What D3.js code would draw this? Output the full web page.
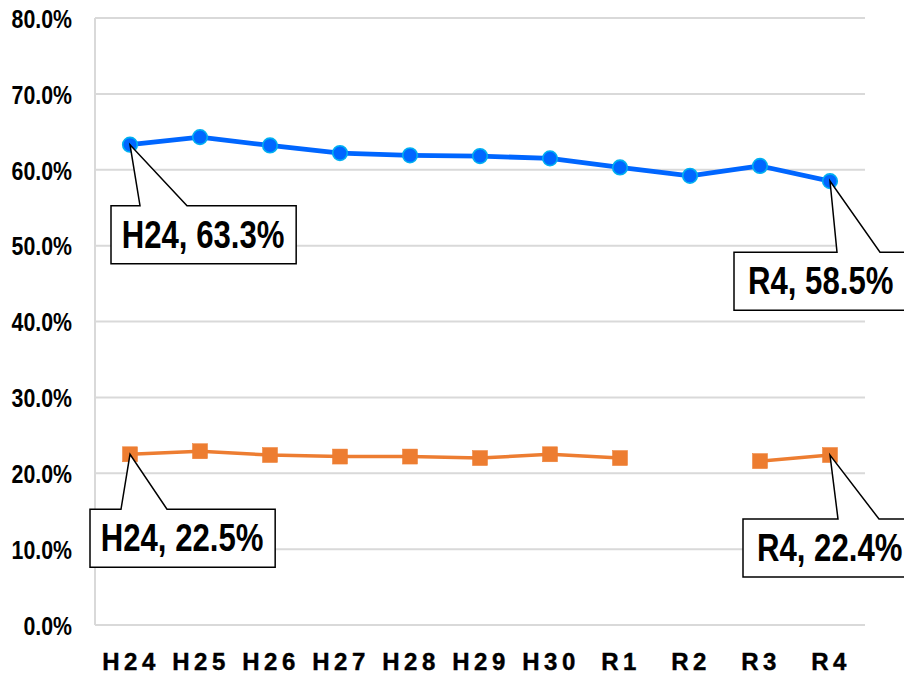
<!DOCTYPE html>
<html>
<head>
<meta charset="utf-8">
<script src="https://cdn.jsdelivr.net/npm/d3@7"></script>
<style>
  html, body { margin: 0; padding: 0; background: #fff; }
  svg { display: block; }
  text { font-family: "Liberation Sans", Arial, sans-serif; font-weight: bold; fill: #000; }
</style>
</head>
<body>
<svg id="chart" width="904" height="677"></svg>
<script>
// ---- data ----
const categories = ["H24","H25","H26","H27","H28","H29","H30","R1","R2","R3","R4"];
const seriesBlue = [63.3, 64.3, 63.2, 62.2, 61.9, 61.8, 61.5, 60.3, 59.2, 60.5, 58.5];
const seriesOrange = [22.5, 22.9, 22.4, 22.2, 22.2, 22.0, 22.5, 22.0, null, 21.6, 22.4];
const yTickValues = [0, 10, 20, 30, 40, 50, 60, 70, 80];
const yTickLabels = ["0.0%","10.0%","20.0%","30.0%","40.0%","50.0%","60.0%","70.0%","80.0%"];

// ---- layout ----
const SX = 0.82; // horizontal condensing of the font
const svg = d3.select("#chart");
const plot = { left: 95, right: 865, top: 18, bottom: 625 };

const x = d3.scaleBand().domain(categories).range([plot.left, plot.right]).padding(0);
const y = d3.scaleLinear().domain([0, 80]).range([plot.bottom, plot.top]);
const cx = c => x(c) + x.bandwidth() / 2;

// gridlines
svg.append("g").selectAll("line").data(yTickValues).join("line")
  .attr("x1", plot.left).attr("x2", plot.right)
  .attr("y1", d => y(d)).attr("y2", d => y(d))
  .attr("stroke", "#d9d9d9").attr("stroke-width", 2);
// vertical axis line
svg.append("line")
  .attr("x1", plot.left).attr("x2", plot.left)
  .attr("y1", plot.top).attr("y2", plot.bottom)
  .attr("stroke", "#d9d9d9").attr("stroke-width", 2);

// y axis labels
const yAxis = d3.axisLeft(y).tickValues(yTickValues)
  .tickFormat((d, i) => yTickLabels[i]).tickSize(0).tickPadding(0);
const gy = svg.append("g").attr("transform", `translate(72,0)`).call(yAxis);
gy.select(".domain").remove();
gy.selectAll("text")
  .attr("font-family", null).attr("font-size", null)
  .style("font-size", "26px").attr("dy", "0.36em").attr("x", 0)
  .attr("transform", `scale(${SX},1)`);

// x axis labels
const xAxis = d3.axisBottom(x).tickSize(0).tickPadding(0);
const gx = svg.append("g").attr("transform", `translate(0,670)`).call(xAxis);
gx.select(".domain").remove();
gx.selectAll("text")
  .attr("font-family", null).attr("font-size", null)
  .style("font-size", "24px").style("letter-spacing", "4.5px")
  .style("stroke", "#000").style("stroke-width", "0.4px")
  .attr("dy", 0).attr("y", 0).attr("dx", 1);

// ---- series ----
const lineGen = d3.line()
  .defined(d => d.v !== null)
  .x(d => cx(d.c)).y(d => y(d.v));

const blueData = categories.map((c, i) => ({ c, v: seriesBlue[i] }));
const orangeData = categories.map((c, i) => ({ c, v: seriesOrange[i] }));

svg.append("path").datum(orangeData).attr("d", lineGen)
  .attr("fill", "none").attr("stroke", "#ED7D31").attr("stroke-width", 3.5)
  .attr("stroke-linejoin", "round");
svg.append("g").selectAll("rect").data(orangeData.filter(d => d.v !== null)).join("rect")
  .attr("x", d => cx(d.c) - 7.5).attr("y", d => y(d.v) - 7.5)
  .attr("width", 15).attr("height", 15)
  .attr("fill", "#ED7D31").attr("stroke", "#ED7D31").attr("stroke-width", 0.5);

svg.append("path").datum(blueData).attr("d", lineGen)
  .attr("fill", "none").attr("stroke", "#0066FF").attr("stroke-width", 4.8)
  .attr("stroke-linejoin", "round");
svg.append("g").selectAll("circle").data(blueData).join("circle")
  .attr("cx", d => cx(d.c)).attr("cy", d => y(d.v)).attr("r", 7.3)
  .attr("fill", "#0066FF").attr("stroke", "#00B0F0").attr("stroke-width", 1.6);

// ---- callout labels ----
const callouts = [
  { series: seriesBlue,   i: 0,  bx: -19,  by: 61, w0: 29,  w1: 76,  extra: 0 },
  { series: seriesBlue,   i: 10, bx: -96,  by: 71, w0: 103, w1: 146, extra: 20 },
  { series: seriesOrange, i: 0,  bx: -40,  by: 55, w0: 31,  w1: 77,  extra: 0 },
  { series: seriesOrange, i: 10, bx: -87,  by: 64, w0: 95,  w1: 136, extra: 20 }
];
const boxH = 58;
const cg = svg.append("g");
callouts.forEach(co => {
  const c = categories[co.i], v = co.series[co.i];
  const px = cx(c), py = y(v);
  const left = px + co.bx, top = py + co.by;
  const padX = co.extra ? 14 : 10.7;
  const g = cg.append("g");
  const path = g.append("path");
  const t = g.append("text")
    .attr("transform", `translate(${left + padX},${top + 42}) scale(${SX},1)`)
    .style("font-size", "38px")
    .text(`${c}, ${v.toFixed(1)}%`);
  const tw = t.node().getComputedTextLength() * SX;
  const w = tw + padX * 2 + 1 + co.extra;
  const d = [
    [left, top], [left + co.w0, top], [px, py], [left + co.w1, top],
    [left + w, top], [left + w, top + boxH], [left, top + boxH]
  ];
  path.attr("d", "M" + d.map(p => p.join(",")).join("L") + "Z")
    .attr("fill", "#fff").attr("stroke", "#000").attr("stroke-width", 1.5)
    .attr("stroke-linejoin", "miter");
});
</script>
</body>
</html>
